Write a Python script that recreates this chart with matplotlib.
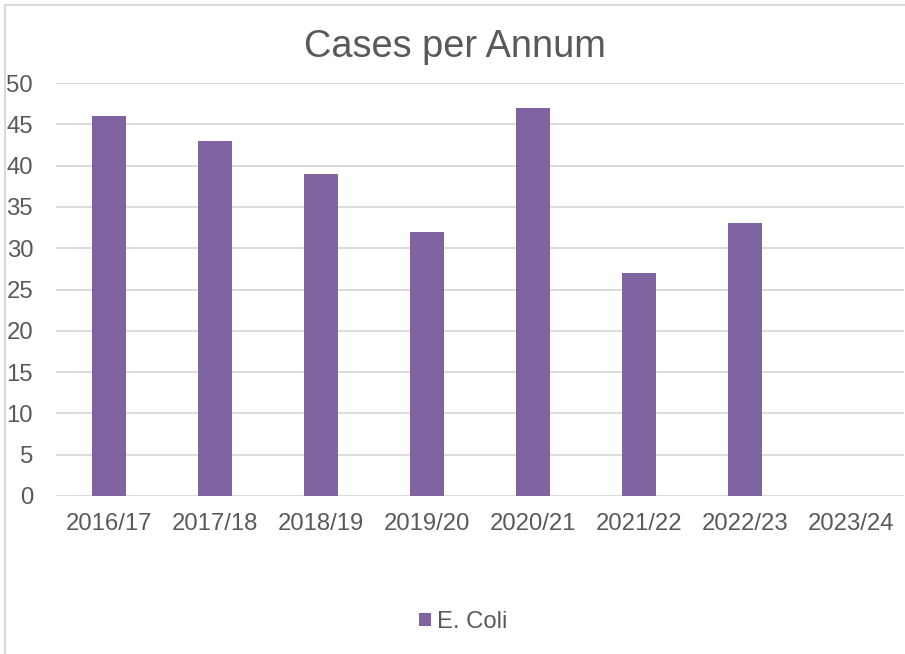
import matplotlib
matplotlib.use("Agg")
import matplotlib.pyplot as plt
from matplotlib.lines import Line2D

categories = ["2016/17", "2017/18", "2018/19", "2019/20", "2020/21", "2021/22", "2022/23", "2023/24"]
values = [46, 43, 39, 32, 47, 27, 33, 0]
series_name = "E. Coli"
title = "Cases per Annum"
yticks = [0, 5, 10, 15, 20, 25, 30, 35, 40, 45, 50]

plt.rcParams['font.family'] = ['Liberation Sans', 'DejaVu Sans']
text_color = "#595959"
bar_color = "#8064A2"
grid_color = "#D9D9D9"

W, H = 905, 654
fig = plt.figure(figsize=(W / 100, H / 100), dpi=100)
fig.patch.set_facecolor("white")

ax = fig.add_axes([56 / W, 1 - 496 / H, (904 - 56) / W, (496 - 83) / H])
x = list(range(len(categories)))
bars = ax.bar(x, values, width=0.32, color=bar_color, label=series_name, zorder=3)

ax.set_xlim(-0.5, len(categories) - 0.5)
ax.set_ylim(0, 50)
ax.set_yticks(yticks)
ax.set_yticklabels([str(t) for t in yticks])
ax.set_xticks(x)
ax.set_xticklabels(categories)
ax.tick_params(axis="both", length=0, labelsize=17.2, colors=text_color)
ax.tick_params(axis="y", pad=16.5)
ax.tick_params(axis="x", pad=12.5)
for s in ax.spines.values():
    s.set_visible(False)
ax.grid(axis="y", color=grid_color, linewidth=1.3, zorder=0)
ax.set_axisbelow(True)

fig.text(455 / W, 1 - 47 / H, title, ha="center", va="center", fontsize=27.4, color=text_color)

leg = fig.legend(handles=[bars], labels=[series_name], loc="center",
                 bbox_to_anchor=(463 / W, 1 - 622 / H), frameon=False,
                 fontsize=17.2, handlelength=0.52, handleheight=0.52,
                 handletextpad=0.25, borderpad=0)
for t in leg.get_texts():
    t.set_color(text_color)

# chart border (left and top visible)
fig.add_artist(Line2D([4.5 / W, 4.5 / W], [0, 1 - 5 / H], transform=fig.transFigure,
                      color=grid_color, linewidth=1.5))
fig.add_artist(Line2D([4.5 / W, 1], [1 - 5 / H, 1 - 5 / H], transform=fig.transFigure,
                      color=grid_color, linewidth=1.5))

fig.savefig("out.png", dpi=100)
